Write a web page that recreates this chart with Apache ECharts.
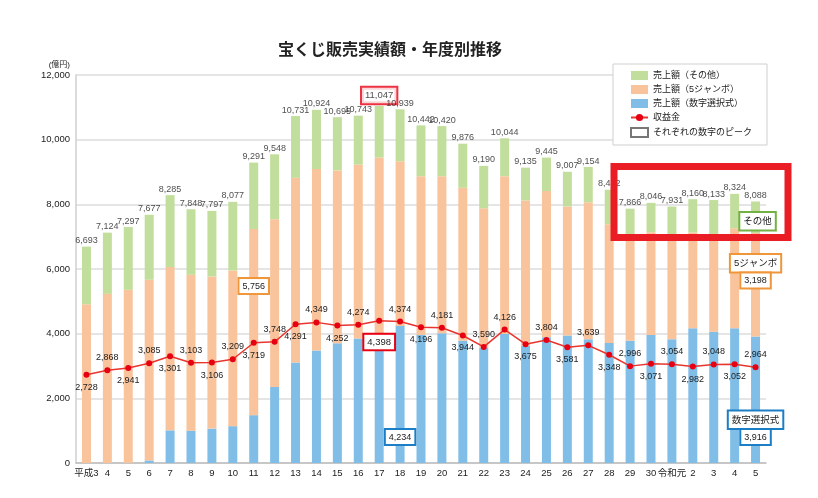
<!DOCTYPE html>
<html>
<head>
<meta charset="utf-8">
<script src="https://cdn.jsdelivr.net/npm/echarts@6/dist/echarts.min.js"></script>
<style>
  html, body { margin: 0; padding: 0; background: #fff; }
  #chart { width: 818px; height: 498px; }
</style>
</head>
<body>
<div id="chart"></div>
<script>
// 年度
const years = ['平成3', '4', '5', '6', '7', '8', '9', '10', '11', '12', '13', '14', '15', '16', '17', '18', '19', '20',
  '21', '22', '23', '24', '25', '26', '27', '28', '29', '30', '令和元', '2', '3', '4', '5'];
// 売上額 合計（億円）
const totals = [6693, 7124, 7297, 7677, 8285, 7848, 7797, 8077, 9291, 9548, 10731, 10924, 10695, 10743, 11047, 10939,
  10442, 10420, 9876, 9190, 10044, 9135, 9445, 9007, 9154, 8452, 7866, 8046, 7931, 8160, 8133, 8324, 8088];
// 売上額（数字選択式）
const numbers = [0, 0, 0, 80, 1010, 1000, 1065, 1140, 1480, 2350, 3110, 3480, 3700, 3850, 3700, 4234,
  3955, 4010, 3780, 3570, 3990, 3630, 3890, 3940, 3830, 3710, 3780, 3960, 3830, 4170, 4060, 4170, 3916];
// 売上額（5ジャンボ）
const jumbo = [4911, 5232, 5356, 5587, 5050, 4820, 4705, 4817, 5756, 5190, 5710, 5610, 5350, 5380, 5750, 5099,
  4915, 4860, 4732, 4307, 4881, 4490, 4520, 3995, 4235, 3675, 3200, 3180, 3170, 2960, 2980, 3090, 3198];
// 収益金
const profit = [2728, 2868, 2941, 3085, 3301, 3103, 3106, 3209, 3719, 3748, 4291, 4349, 4252, 4274, 4398, 4374,
  4196, 4181, 3944, 3590, 4126, 3675, 3804, 3581, 3639, 3348, 2996, 3071, 3054, 2982, 3048, 3052, 2964];
// 売上額（その他）= 合計 - 数字選択式 - 5ジャンボ
const others = totals.map((t, i) => t - numbers[i] - jumbo[i]);

// 収益金ラベルの上下
const profitLabelPos = ['bottom', 'top', 'bottom', 'top', 'bottom', 'top', 'bottom', 'top', 'bottom', 'top',
  'bottom', 'top', 'bottom', 'top', 'bottom', 'top', 'bottom', 'top', 'bottom', 'top', 'top', 'bottom', 'top',
  'bottom', 'top', 'bottom', 'top', 'bottom', 'top', 'bottom', 'top', 'bottom', 'top'];

const FONT = "'Liberation Sans', 'Noto Sans CJK JP', sans-serif";
const GREEN = '#c2de9c', ORANGE = '#f9c39b', BLUE = '#80bee8', RED = '#e60012';
const fmt = v => v.toLocaleString('en-US');
const last = years.length - 1;

const boxStyle = (color) => ({
  backgroundColor: '#fff', borderColor: color, borderWidth: 2, padding: [3, 3, 2, 3],
  color: '#222', fontSize: 9, fontFamily: FONT
});

// 数字選択式
const numbersData = numbers.map((v, i) => {
  if (i === 15) {
    return { value: v, label: { show: true, position: 'insideBottom', distance: 19, formatter: fmt(v), ...boxStyle('#1b7ec6') } };
  }
  if (i === last) {
    return {
      value: v,
      label: {
        show: true, position: 'insideBottom', distance: 19,
        formatter: '{t|数字選択式}\n{s|}\n{v|' + fmt(v) + '}',
        rich: {
          t: { ...boxStyle('#1b7ec6'), padding: [4, 3, 3, 3], fontSize: 9.5 },
          s: { height: 2 },
          v: boxStyle('#1b7ec6')
        }
      }
    };
  }
  return v;
});

// 5ジャンボ
const jumboData = jumbo.map((v, i) => {
  if (i === 8) {
    return { value: v, label: { show: true, position: 'insideTop', distance: 50, formatter: fmt(v), ...boxStyle('#f0963a') } };
  }
  if (i === last) {
    return {
      value: v,
      label: {
        show: true, position: 'insideTop', distance: 22,
        formatter: '{t|5ジャンボ}\n{s|}\n{v|' + fmt(v) + '}',
        rich: {
          t: { ...boxStyle('#f0963a'), padding: [4, 3, 3, 3], fontSize: 9.5 },
          s: { height: 2 },
          v: boxStyle('#f0963a')
        }
      }
    };
  }
  return v;
});

// その他
const othersData = others.map((v, i) => {
  if (i === last) {
    return {
      value: v,
      label: { show: true, position: 'inside', offset: [2, 4], formatter: 'その他', ...boxStyle('#74b144'), padding: [4, 3, 3, 3], fontSize: 9.5 }
    };
  }
  return v;
});

// 合計ラベル
const totalsData = totals.map((v, i) => {
  const item = { value: [i, v] };
  if (i === 14) {
    item.label = { distance: 2, ...boxStyle(RED), padding: [3, 3, 3, 3], fontSize: 9.5 };
  }
  return item;
});

// 収益金
const profitData = profit.map((v, i) => {
  const item = { value: v, label: { position: profitLabelPos[i] } };
  if (i === 14) {
    item.label = { position: 'bottom', distance: 11, ...boxStyle(RED), fontSize: 9.5 };
  }
  return item;
});

const chart = echarts.init(document.getElementById('chart'));

chart.setOption({
  backgroundColor: '#fff',
  animation: false,
  textStyle: { fontFamily: FONT },
  title: {
    text: '宝くじ販売実績額・年度別推移',
    left: 273,
    top: 38,
    textStyle: { fontSize: 16, fontWeight: 'bold', color: '#222', fontFamily: FONT }
  },
  legend: {
    orient: 'vertical',
    left: 613,
    top: 64,
    padding: [7, 15, 7, 17],
    itemWidth: 17,
    itemHeight: 9,
    itemGap: 5,
    borderColor: '#cfcfcf',
    borderWidth: 1,
    backgroundColor: '#fff',
    selectedMode: false,
    textStyle: { fontSize: 9, color: '#222', fontFamily: FONT },
    data: [
      { name: '売上額（その他）', icon: 'rect' },
      { name: '売上額（5ジャンボ）', icon: 'rect' },
      { name: '売上額（数字選択式）', icon: 'rect' },
      '収益金',
      { name: 'それぞれの数字のピーク', icon: 'rect' }
    ]
  },
  grid: { left: 76, right: 52, top: 75, bottom: 35 },
  xAxis: {
    type: 'category',
    data: years,
    axisTick: { show: false },
    axisLine: { lineStyle: { color: '#bdbdbd', width: 1.5 } },
    axisLabel: { interval: 0, margin: 6, fontSize: 9.5, color: '#222', fontFamily: FONT }
  },
  yAxis: {
    type: 'value',
    min: 0,
    max: 12000,
    interval: 2000,
    name: '(億円)',
    nameGap: 6,
    nameTextStyle: { fontSize: 8, color: '#222', align: 'right', padding: [0, 6, 0, 0], fontFamily: FONT },
    axisLine: { show: true, lineStyle: { color: '#cfcfcf', width: 1.5 } },
    axisTick: { show: false },
    axisLabel: { fontSize: 9.5, color: '#222', margin: 6, formatter: v => fmt(v), fontFamily: FONT },
    splitLine: { lineStyle: { color: '#dcdcdc', width: 1.5 } }
  },
  series: [
    {
      name: '売上額（数字選択式）', type: 'bar', stack: 'sales', barWidth: 9,
      itemStyle: { color: BLUE }, data: numbersData
    },
    {
      name: '売上額（5ジャンボ）', type: 'bar', stack: 'sales', barWidth: 9,
      itemStyle: { color: ORANGE }, data: jumboData
    },
    {
      name: '売上額（その他）', type: 'bar', stack: 'sales', barWidth: 9,
      itemStyle: { color: GREEN }, data: othersData
    },
    {
      name: 'それぞれの数字のピーク', type: 'bar', stack: 'sales', barWidth: 9,
      itemStyle: { color: '#fff', borderColor: '#777', borderWidth: 1 }, data: []
    },
    {
      name: '合計', type: 'scatter', symbolSize: 1, silent: true, z: 5,
      itemStyle: { color: 'rgba(0,0,0,0)' },
      label: { show: true, position: 'top', distance: 1, fontSize: 9, color: '#222', fontFamily: FONT, formatter: p => fmt(p.value[1]) },
      data: totalsData
    },
    {
      name: '収益金', type: 'line', z: 6,
      symbol: 'circle', symbolSize: 6,
      itemStyle: { color: RED },
      lineStyle: { color: '#e8352e', width: 1.5 },
      label: { show: true, distance: 5, fontSize: 9, color: '#222', fontFamily: FONT, formatter: p => fmt(p.value) },
      data: profitData
    }
  ],
  graphic: [
    {
      type: 'rect', z: 100, silent: true,
      shape: { x: 614, y: 166.5, width: 174, height: 71 },
      style: { fill: 'none', stroke: '#ea1c24', lineWidth: 7 }
    }
  ]
});
</script>
</body>
</html>
